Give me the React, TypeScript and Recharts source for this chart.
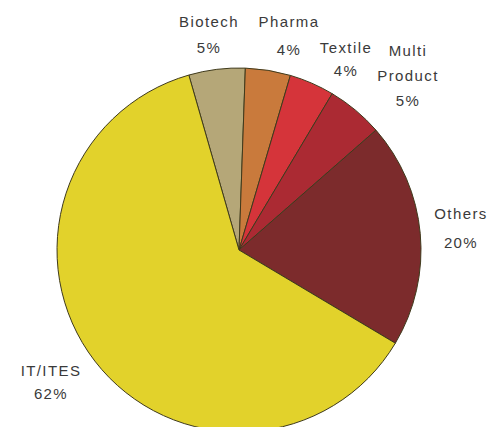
import { Cell, Pie, PieChart } from "recharts";

const sectors = ["Biotech", "Pharma", "Textile", "Multi Product", "Others", "IT/ITES"];
const shares = [5, 4, 4, 5, 20, 62];
const sectorColors = ["#b5a778", "#c97a3c", "#d5343a", "#ab2a33", "#7c2b2c", "#e2d22b"];

// each label is a list of lines, drawn centred on its anchor
const labelLines = [
  ["Biotech", "5%"],
  ["Pharma", "4%"],
  ["Textile", "4%"],
  ["Multi", "Product", "5%"],
  ["Others", "20%"],
  ["IT/ITES", "62%"],
];

const labelAnchors = [
  { x: 209, y: 21, gap: 26 },
  { x: 289, y: 21, gap: 28 },
  { x: 346, y: 47, gap: 23 },
  { x: 408, y: 50, gap: 25 },
  { x: 461, y: 213, gap: 29 },
  { x: 51, y: 370, gap: 23 },
];

const data = sectors.map((name, i) => ({ name, value: shares[i] }));

interface LabelProps {
  index?: number;
}

function SectorLabel({ index = 0 }: LabelProps) {
  const anchor = labelAnchors[index];
  const lines = labelLines[index];
  return (
    <g>
      {lines.map((line, i) => (
        <text
          key={i}
          x={anchor.x}
          y={anchor.y + i * anchor.gap}
          textAnchor="middle"
          dominantBaseline="central"
          fill="#3a3a3a"
          fontSize={15}
          letterSpacing={1.4}
          fontFamily="Liberation Sans, Arial, sans-serif"
        >
          {line}
        </text>
      ))}
    </g>
  );
}

export default function App() {
  return (
    <div style={{ position: "absolute", left: 0, top: 0, background: "#fff" }}>
      <PieChart width={492} height={427} margin={{ top: 0, right: 0, bottom: 0, left: 0 }}>
        <Pie
          data={data}
          dataKey="value"
          nameKey="name"
          cx={239}
          cy={250}
          outerRadius={182}
          startAngle={106}
          endAngle={-254}
          stroke="#3f3a1c"
          strokeWidth={1}
          labelLine={false}
          label={(props: LabelProps) => <SectorLabel {...props} />}
          isAnimationActive={false}
        >
          {data.map((entry, index) => (
            <Cell key={`cell-${entry.name}`} fill={sectorColors[index]} />
          ))}
        </Pie>
      </PieChart>
    </div>
  );
}
